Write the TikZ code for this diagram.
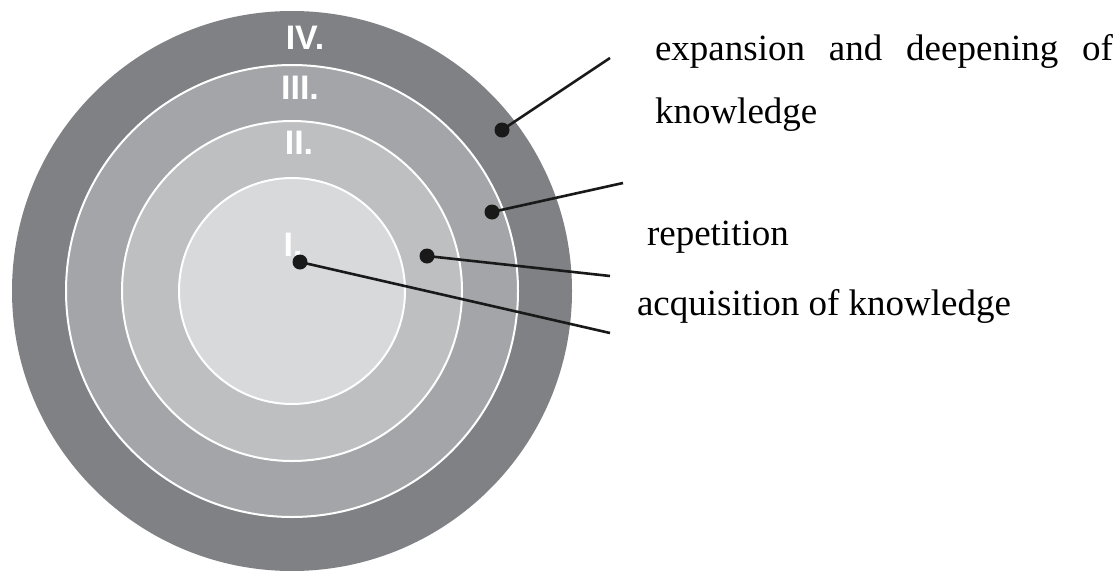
\documentclass[tikz,border=0pt]{standalone}
\usepackage{fontspec}
\setmainfont{Liberation Serif}
\newfontfamily\numfont{Liberation Sans}
\usetikzlibrary{positioning}
\definecolor{ringfour}{RGB}{128,129,133}
\definecolor{ringthree}{RGB}{164,165,168}
\definecolor{ringtwo}{RGB}{190,191,193}
\definecolor{ringone}{RGB}{216,217,219}

\begin{document}
\begin{tikzpicture}[x=1pt,y=1pt]
                    \tikzstyle{every node}=[inner sep=0,outer sep=0]
                    \tikzstyle{numeral}=[text=white,font=\numfont\bfseries\fontsize{34}{34}\selectfont]
                    \tikzstyle{note}=[anchor=base west,font=\fontsize{37}{37}\selectfont]
                    \tikzstyle{dot}=[fill=black!90,circle,minimum size=15]
                    \tikzstyle{ring}=[draw=white,line width=2]
                    {
                        \useasboundingbox (0,0) rectangle (1118,-570);

                        \fill[ringfour] (292,-291) circle (280);
                        \filldraw[ring,fill=ringthree] (292,-291) circle (226);
                        \filldraw[ring,fill=ringtwo] (292,-291) circle (170);
                        \filldraw[ring,fill=ringone] (292,-291) circle (113);

                        \node[numeral] (lfour) at (305,-38) {IV.};
                        \node[numeral] (lthree) at (300,-88) {III.};
                        \node[numeral] (ltwo) at (299,-143) {II.};
                        \node[numeral] (lone) at (293,-245) {I.};

                        \node[dot] (dfour) at (502,-130) {};
                        \node[dot] (dthree) at (492,-212) {};
                        \node[dot] (dtwo) at (427,-256) {};
                        \node[dot] (done) at (300,-262) {};

                        \coordinate (efour) at (610,-58);
                        \coordinate (ethree) at (623,-183);
                        \coordinate (etwo) at (610,-276);
                        \coordinate (eone) at (610,-333);

                        \node[note] (tfour) at (655,-60) {\makebox[458pt][s]{expansion and deepening of}};
                        \node[note] (tfourb) at (655,-123) {knowledge};
                        \node[note] (ttwo) at (647,-245) {repetition};
                        \node[note] (tone) at (637,-315) {acquisition of knowledge};

                        \path[line width=2.6,black!90]
                            (dfour.center) edge (efour)
                            (dthree.center) edge (ethree)
                            (dtwo.center) edge (etwo)
                            (done.center) edge (eone);
                    }
\end{tikzpicture}
\end{document}
